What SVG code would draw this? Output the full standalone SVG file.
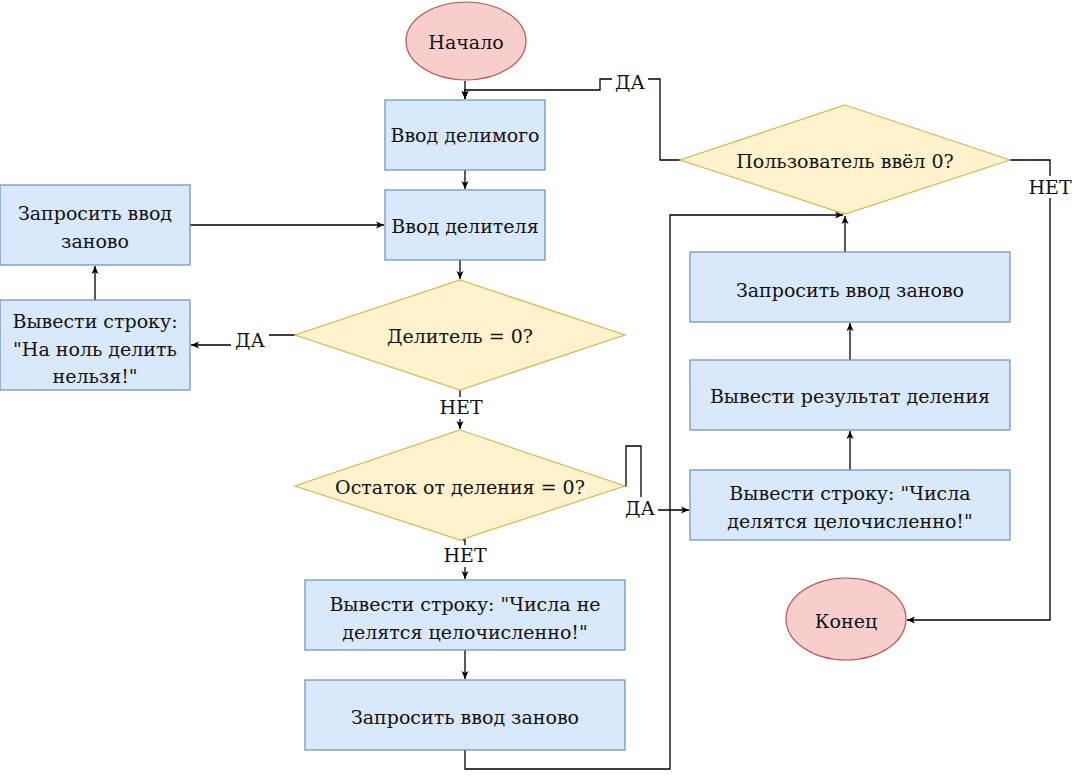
<svg xmlns="http://www.w3.org/2000/svg" width="1075" height="779" viewBox="0 0 1075 779">
<defs>
<style>
.b{fill:#dae8fc;stroke:#6c8ebf;stroke-width:1.2}
.y{fill:#fff2cc;stroke:#d6b656;stroke-width:1.2}
.r{fill:#f8cecc;stroke:#b85450;stroke-width:1.2}
.t text{font-size:19px;fill:#111;text-anchor:middle;dominant-baseline:central}
.e{fill:none;stroke:#000;stroke-width:1.3;marker-end:url(#a)}
.lb{fill:#fff;stroke:none}
</style>
<marker id="a" markerWidth="10" markerHeight="8" refX="8" refY="4" orient="auto" markerUnits="userSpaceOnUse">
<path d="M0,0.5 L8,4 L0,7.5 L2,4 z" fill="#000"/>
</marker>
</defs>
<rect width="1075" height="779" fill="#fff"/>
<g class="t" font-family="'DejaVu Serif', 'Liberation Serif', serif">
<g id="connectors">
<path class="e" d="M465,81 L465,99"/>
<path class="e" d="M465,170 L465,189"/>
<path class="e" d="M460,260 L460,279"/>
<path class="e" d="M190,225 L384,225"/>
<path class="e" d="M95,300 L95,266"/>
<path class="e" d="M295,335 L242,335 L242,345 L191,345"/>
<path class="e" d="M460,390 L460,429"/>
<path class="e" d="M463,540 L465,540 L465,579"/>
<path class="e" d="M465,650 L465,679"/>
<path class="e" d="M465,750 L465,769 L670,769 L670,215 L843,215"/>
<path class="e" d="M625,486 L626,486 L626,446 L641,446 L641,510 L689,510"/>
<path class="e" d="M850,470 L850,431"/>
<path class="e" d="M850,360 L850,323"/>
<path class="e" d="M845,252 L845,216"/>
<path class="e" d="M680,160 L660,160 L660,79 L600,79 L600,90 L465,90 L465,99"/>
<path class="e" d="M1010,160 L1050,160 L1050,620 L907,620"/>
<rect class="lb" x="231" y="329" width="38" height="22"/>
<text x="250" y="340">ДА</text>
<rect class="lb" x="441" y="397" width="40" height="22"/>
<text x="461" y="407">НЕТ</text>
<rect class="lb" x="445" y="545" width="40" height="22"/>
<text x="465" y="555">НЕТ</text>
<rect class="lb" x="622" y="497" width="36" height="22"/>
<text x="640" y="508">ДА</text>
<rect class="lb" x="612" y="71" width="36" height="22"/>
<text x="630" y="82">ДА</text>
<rect class="lb" x="1029" y="176" width="42" height="22"/>
<text x="1050" y="187">НЕТ</text>
</g>
<g id="start"><ellipse class="r" cx="466" cy="41" rx="60" ry="39"/><text x="466" y="42">Начало</text></g>
<g id="inputDividend"><rect class="b" x="385" y="100" width="160" height="70"/><text x="465" y="135">Ввод делимого</text></g>
<g id="inputDivisor"><rect class="b" x="385" y="190" width="160" height="70"/><text x="465" y="226">Ввод делителя</text></g>
<g id="retryLeft"><rect class="b" x="0" y="185" width="190" height="80"/><text x="95" y="213">Запросить ввод</text><text x="95" y="241">заново</text></g>
<g id="zeroMsg"><rect class="b" x="0" y="300" width="190" height="90"/><text x="95" y="321">Вывести строку:</text><text x="95" y="349">"На ноль делить</text><text x="95" y="376">нельзя!"</text></g>
<g id="divisorZero"><path class="y" d="M460,280 L625,335 L460,390 L295,335 z"/><text x="460" y="336">Делитель = 0?</text></g>
<g id="remainderZero"><path class="y" d="M460,430 L625,486 L460,540 L295,486 z"/><text x="460" y="487">Остаток от деления = 0?</text></g>
<g id="notDivisible"><rect class="b" x="305" y="580" width="320" height="70"/><text x="465" y="604">Вывести строку: "Числа не</text><text x="465" y="632">делятся целочисленно!"</text></g>
<g id="retryBottom"><rect class="b" x="305" y="680" width="320" height="70"/><text x="465" y="717">Запросить ввод заново</text></g>
<g id="divisible"><rect class="b" x="690" y="470" width="320" height="70"/><text x="850" y="493">Вывести строку: "Числа</text><text x="850" y="521">делятся целочисленно!"</text></g>
<g id="result"><rect class="b" x="690" y="360" width="320" height="70"/><text x="850" y="396">Вывести результат деления</text></g>
<g id="retryRight"><rect class="b" x="690" y="252" width="320" height="70"/><text x="850" y="290">Запросить ввод заново</text></g>
<g id="userZero"><path class="y" d="M845,105 L1010,160 L845,214 L680,160 z"/><text x="845" y="161">Пользователь ввёл 0?</text></g>
<g id="end"><ellipse class="r" cx="846" cy="619" rx="60" ry="41"/><text x="846" y="621">Конец</text></g>
</g>
</svg>
